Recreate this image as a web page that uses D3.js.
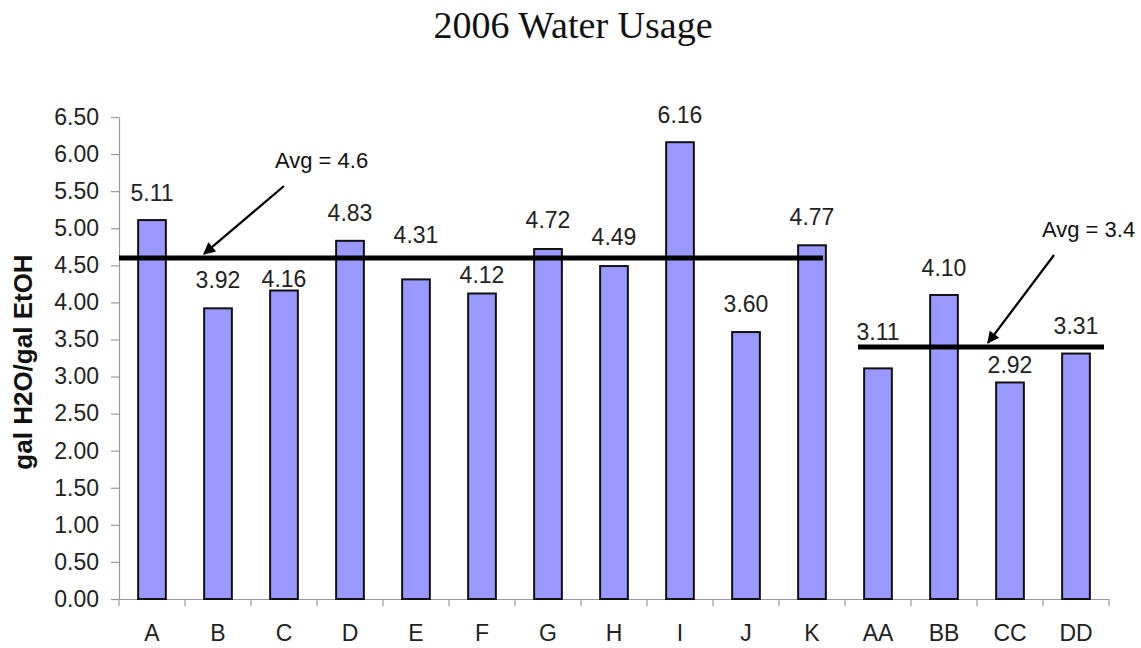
<!DOCTYPE html>
<html>
<head>
<meta charset="utf-8">
<script src="https://cdn.jsdelivr.net/npm/d3@7"></script>
<style>
  body { margin: 0; background: #fff; }
</style>
</head>
<body>
<div id="chart"></div>
<script>
// data
var categories = ["A", "B", "C", "D", "E", "F", "G", "H", "I", "J", "K", "AA", "BB", "CC", "DD"];
var usage = [5.11, 3.92, 4.16, 4.83, 4.31, 4.12, 4.72, 4.49, 6.16, 3.60, 4.77, 3.11, 4.10, 2.92, 3.31];
var yTicks = [0, 0.5, 1, 1.5, 2, 2.5, 3, 3.5, 4, 4.5, 5, 5.5, 6, 6.5];
var avgValues = [4.6, 3.4];
var avgLabels = ["Avg = 4.6", "Avg = 3.4"];

var w = 1141, h = 648;
var plotLeft = 119, plotRight = 1109, plotTop = 117, plotBottom = 599;
// label lift above bar top (px), hand-placed to dodge the avg lines
var labelLift = [19, 20, 4, 20, 36, 10, 21, 21, 19, 20, 20, 28, 19, 9, 20];

var svg = d3.select("#chart")
      .append("svg")
      .attr("width", w)
      .attr("height", h)
      .style("font-family", "Liberation Sans, Arial, sans-serif");

var x = d3.scaleBand()
      .domain(categories)
      .range([plotLeft, plotRight])
      .paddingInner(0.58)
      .paddingOuter(0.29);

var y = d3.scaleLinear()
      .domain([0, 6.5])
      .range([plotBottom, plotTop]);

// title
svg.append("text")
   .attr("x", 573)
   .attr("y", 38)
   .attr("text-anchor", "middle")
   .attr("font-family", "Liberation Serif, Times New Roman, serif")
   .attr("font-size", "38px")
   .attr("fill", "#111")
   .text("2006 Water Usage");

// y axis
var yAxis = svg.append("g")
   .attr("transform", "translate(" + plotLeft + ",0)")
   .call(d3.axisLeft(y).tickValues(yTicks).tickFormat(d3.format(".2f")).tickSize(8).tickSizeOuter(0).tickPadding(12));
yAxis.select(".domain").attr("stroke", "#999").attr("stroke-width", 1.2);
yAxis.selectAll(".tick line").attr("stroke", "#999").attr("stroke-width", 1.2);
yAxis.selectAll(".tick text")
   .attr("font-family", "Liberation Sans, Arial, sans-serif")
   .attr("font-size", "23px")
   .attr("fill", "#222");

svg.append("text")
   .attr("transform", "translate(32,362) rotate(-90)")
   .attr("text-anchor", "middle")
   .attr("font-size", "26px")
   .attr("font-weight", "bold")
   .attr("fill", "#111")
   .text("gal H2O/gal EtOH");

// x axis
var xAxis = svg.append("g")
   .attr("transform", "translate(0," + plotBottom + ")")
   .call(d3.axisBottom(x).tickSize(0).tickPadding(26));
xAxis.select(".domain").attr("stroke", "#999").attr("stroke-width", 1.2);
xAxis.selectAll(".tick text")
   .attr("font-family", "Liberation Sans, Arial, sans-serif")
   .attr("font-size", "23px")
   .attr("fill", "#222");

// tick marks between categories
svg.selectAll("line.sep")
   .data(d3.range(categories.length + 1))
   .enter()
   .append("line")
   .attr("class", "sep")
   .attr("x1", function(d) { return plotLeft + d * x.step(); })
   .attr("x2", function(d) { return plotLeft + d * x.step(); })
   .attr("y1", plotBottom)
   .attr("y2", plotBottom + 7)
   .attr("stroke", "#999")
   .attr("stroke-width", 1.2);

// bars
svg.selectAll("rect.bar")
   .data(usage)
   .enter()
   .append("rect")
   .attr("class", "bar")
   .attr("x", function(d, i) { return x(categories[i]); })
   .attr("y", function(d) { return y(d); })
   .attr("width", x.bandwidth())
   .attr("height", function(d) { return plotBottom - y(d); })
   .attr("fill", "#9999ff")
   .attr("stroke", "#111")
   .attr("stroke-width", 2);

// value labels
svg.selectAll("text.val")
   .data(usage)
   .enter()
   .append("text")
   .attr("class", "val")
   .attr("x", function(d, i) { return x(categories[i]) + x.bandwidth() / 2; })
   .attr("y", function(d, i) { return y(d) - labelLift[i]; })
   .attr("text-anchor", "middle")
   .attr("font-size", "23px")
   .attr("fill", "#222")
   .text(function(d) { return d.toFixed(2); });

// average lines
var cx = function(c) { return x(c) + x.bandwidth() / 2; };
var lineStart = [plotLeft, cx("AA") - 20];
var lineEnd = [cx("K") + 11, cx("DD") + 28];

svg.selectAll("line.avg")
   .data(avgValues)
   .enter()
   .append("line")
   .attr("class", "avg")
   .attr("x1", function(d, i) { return lineStart[i]; })
   .attr("x2", function(d, i) { return lineEnd[i]; })
   .attr("y1", function(d) { return y(d); })
   .attr("y2", function(d) { return y(d); })
   .attr("stroke", "#000")
   .attr("stroke-width", 5);

// arrows + labels
svg.append("defs").append("marker")
   .attr("id", "head")
   .attr("viewBox", "0 0 10 10")
   .attr("refX", 9)
   .attr("refY", 5)
   .attr("markerWidth", 14)
   .attr("markerHeight", 12)
   .attr("markerUnits", "userSpaceOnUse")
   .attr("orient", "auto")
   .append("path")
   .attr("d", "M0,0 L10,5 L0,10 z")
   .attr("fill", "#000");

var tipX = [cx("B") - 14, cx("CC") - 22];
var tailX = [284, 1054];
var tailY = [186, 255];
var labelX = [275, 1042];
var labelY = [168, 237];

svg.selectAll("line.arrow")
   .data(avgValues)
   .enter()
   .append("line")
   .attr("class", "arrow")
   .attr("x1", function(d, i) { return tailX[i]; })
   .attr("y1", function(d, i) { return tailY[i]; })
   .attr("x2", function(d, i) { return tipX[i]; })
   .attr("y2", function(d) { return y(d) - 4; })
   .attr("stroke", "#000")
   .attr("stroke-width", 2.2)
   .attr("marker-end", "url(#head)");

svg.selectAll("text.avgLabel")
   .data(avgLabels)
   .enter()
   .append("text")
   .attr("class", "avgLabel")
   .attr("x", function(d, i) { return labelX[i]; })
   .attr("y", function(d, i) { return labelY[i]; })
   .attr("font-size", "22px")
   .attr("fill", "#111")
   .text(function(d) { return d; });
</script>
</body>
</html>
